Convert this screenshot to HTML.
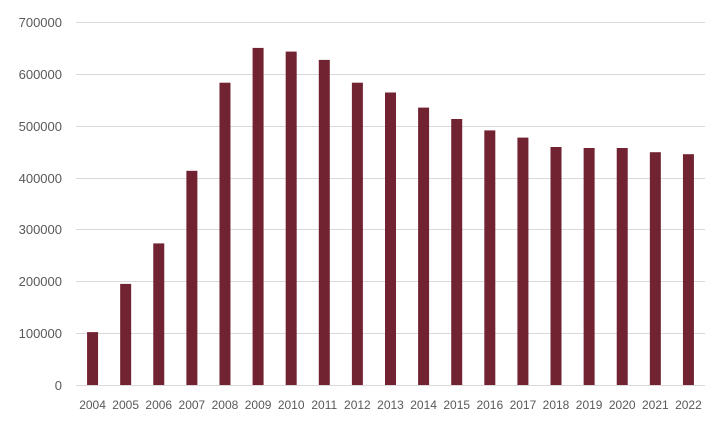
<!DOCTYPE html>
<html><head><meta charset="utf-8"><style>
html,body{margin:0;padding:0;background:#fff;}
svg{display:block;font-family:"Liberation Sans",sans-serif;}
</style></head><body>
<svg width="728" height="425" xmlns="http://www.w3.org/2000/svg">
<g stroke="#d9d9d9" stroke-width="1">
<line x1="76" x2="705" y1="22.5" y2="22.5"/>
<line x1="76" x2="705" y1="74.5" y2="74.5"/>
<line x1="76" x2="705" y1="126.5" y2="126.5"/>
<line x1="76" x2="705" y1="178.5" y2="178.5"/>
<line x1="76" x2="705" y1="229.5" y2="229.5"/>
<line x1="76" x2="705" y1="281.5" y2="281.5"/>
<line x1="76" x2="705" y1="333.5" y2="333.5"/>
<line x1="76" x2="705" y1="385.5" y2="385.5"/>
</g>
<g font-size="13" fill="#595959" text-anchor="end">
<text x="62" y="27">700000</text>
<text x="62" y="79">600000</text>
<text x="62" y="131">500000</text>
<text x="62" y="183">400000</text>
<text x="62" y="234">300000</text>
<text x="62" y="286">200000</text>
<text x="62" y="338">100000</text>
<text x="62" y="390">0</text>
</g>
<g fill="#722332">
<rect x="87.05" y="332.1" width="11" height="52.9"/>
<rect x="120.16" y="283.9" width="11" height="101.1"/>
<rect x="153.26" y="243.4" width="11" height="141.6"/>
<rect x="186.37" y="170.8" width="11" height="214.2"/>
<rect x="219.47" y="82.7" width="11" height="302.3"/>
<rect x="252.58" y="47.9" width="11" height="337.1"/>
<rect x="285.68" y="51.6" width="11" height="333.4"/>
<rect x="318.79" y="59.9" width="11" height="325.1"/>
<rect x="351.89" y="82.7" width="11" height="302.3"/>
<rect x="385.0" y="92.5" width="11" height="292.5"/>
<rect x="418.1" y="107.6" width="11" height="277.4"/>
<rect x="451.21" y="119.0" width="11" height="266.0"/>
<rect x="484.31" y="130.4" width="11" height="254.6"/>
<rect x="517.42" y="137.6" width="11" height="247.4"/>
<rect x="550.52" y="147.0" width="11" height="238.0"/>
<rect x="583.63" y="148.0" width="11" height="237.0"/>
<rect x="616.73" y="148.0" width="11" height="237.0"/>
<rect x="649.84" y="152.2" width="11" height="232.8"/>
<rect x="682.94" y="154.2" width="11" height="230.8"/>
</g>
<g font-size="12" fill="#595959" text-anchor="middle">
<text x="92.55" y="409">2004</text>
<text x="125.66" y="409">2005</text>
<text x="158.76" y="409">2006</text>
<text x="191.87" y="409">2007</text>
<text x="224.97" y="409">2008</text>
<text x="258.08" y="409">2009</text>
<text x="291.18" y="409">2010</text>
<text x="324.29" y="409">2011</text>
<text x="357.39" y="409">2012</text>
<text x="390.5" y="409">2013</text>
<text x="423.6" y="409">2014</text>
<text x="456.71" y="409">2015</text>
<text x="489.81" y="409">2016</text>
<text x="522.92" y="409">2017</text>
<text x="556.02" y="409">2018</text>
<text x="589.13" y="409">2019</text>
<text x="622.23" y="409">2020</text>
<text x="655.34" y="409">2021</text>
<text x="688.44" y="409">2022</text>
</g>
</svg>
</body></html>
